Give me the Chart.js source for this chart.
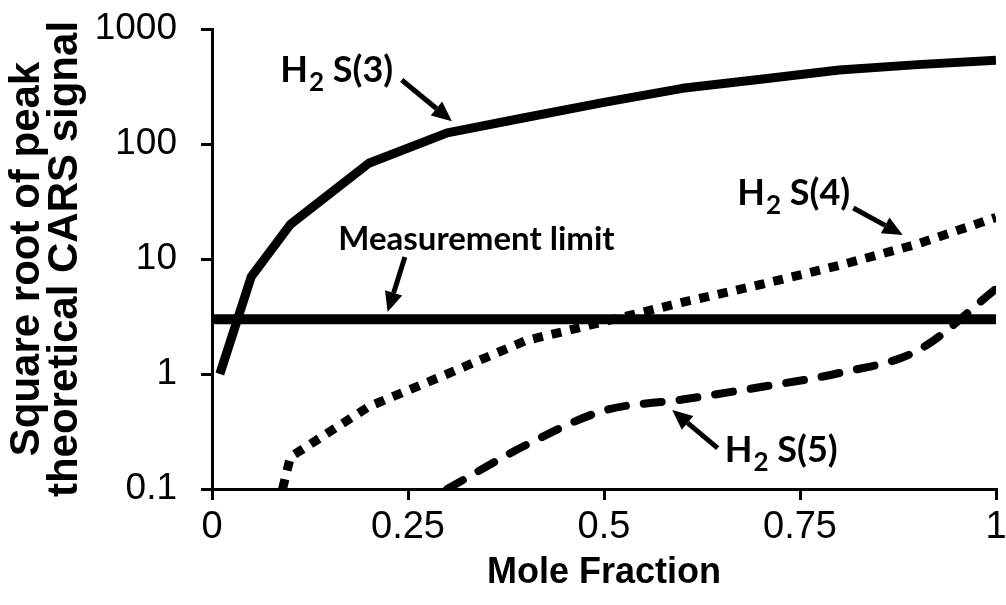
<!DOCTYPE html>
<html>
<head>
<meta charset="utf-8">
<script src="https://cdn.jsdelivr.net/npm/chart.js@4/dist/chart.umd.min.js"></script>
<style>
  html, body { margin: 0; padding: 0; background: #fff; }
</style>
</head>
<body>
<canvas id="carsChart" width="1006" height="605"></canvas>
<script>
// mole fraction / signal values for each line
const fracS3 = [0.01, 0.05, 0.1, 0.2, 0.3, 0.4, 0.5, 0.6, 0.7, 0.8, 0.9, 1.0];
const sigS3 = [1.0, 7.0, 20, 68, 125, 170, 230, 305, 365, 440, 490, 535];

const fracS4 = [0.09, 0.1, 0.2, 0.3, 0.4, 0.5, 0.6, 0.7, 0.8, 0.9, 1.0];
const sigS4 = [0.1, 0.19, 0.52, 1.0, 1.95, 2.85, 4.2, 6.0, 8.8, 13.5, 23];

const fracS5 = [0.3, 0.4, 0.5, 0.6, 0.7, 0.8, 0.9, 1.0];
const sigS5 = [0.1, 0.24, 0.48, 0.6, 0.77, 1.02, 1.6, 5.5];

const fracLimit = [0, 1];
const sigLimit = [3, 3];

const xTicks = [0, 0.25, 0.5, 0.75, 1];
const xTickLabels = ["0", "0.25", "0.5", "0.75", "1"];
const yTicks = [0.1, 1, 10, 100, 1000];
const yTickLabels = ["0.1", "1", "10", "100", "1000"];

function pts(xs, ys) {
  return xs.map((x, i) => ({ x: x, y: ys[i] }));
}

// callouts, placed in data units: text anchor + arrow tail/head
const callouts = [
  { sub: "3", at: [0.087, 347], from: [0.242, 360], to: [0.306, 158] },
  { sub: "4", at: [0.67, 29.5], from: [0.818, 27.8], to: [0.881, 16.2] },
  { sub: "5", at: [0.654, 0.172], from: [0.645, 0.227], to: [0.587, 0.486] },
];
const limitNote = { text: "Measurement limit", at: [0.161, 12], from: [0.246, 10.4], to: [0.224, 3.46] };

const NOTE_FONT = "Lato, 'Open Sans', sans-serif";

function drawArrow(ctx, x1, y1, x2, y2) {
  const ang = Math.atan2(y2 - y1, x2 - x1);
  const head = 20, half = 9;
  const bx = x2 - head * Math.cos(ang);
  const by = y2 - head * Math.sin(ang);
  ctx.beginPath();
  ctx.lineWidth = 5;
  ctx.moveTo(x1, y1);
  ctx.lineTo(bx, by);
  ctx.stroke();
  ctx.beginPath();
  ctx.moveTo(x2, y2);
  ctx.lineTo(bx + half * Math.sin(ang), by - half * Math.cos(ang));
  ctx.lineTo(bx - half * Math.sin(ang), by + half * Math.cos(ang));
  ctx.closePath();
  ctx.fill();
}

const calloutPlugin = {
  id: "callouts",
  afterDatasetsDraw(chart) {
    const ctx = chart.ctx;
    const xs = chart.scales.x, ys = chart.scales.y;
    const px = (p) => [xs.getPixelForValue(p[0]), ys.getPixelForValue(p[1])];
    ctx.save();
    ctx.fillStyle = "#000";
    ctx.strokeStyle = "#000";
    ctx.textBaseline = "alphabetic";
    ctx.textAlign = "left";

    callouts.forEach((c) => {
      let [x, y] = px(c.at);
      ctx.font = "bold 36px " + NOTE_FONT;
      ctx.fillText("H", x, y);
      x += ctx.measureText("H").width + 1;
      ctx.font = "bold 26px " + NOTE_FONT;
      ctx.fillText("2", x, y + 9);
      x += ctx.measureText("2").width;
      ctx.font = "bold 36px " + NOTE_FONT;
      ctx.fillText(" S(" + c.sub + ")", x, y);
      const a = px(c.from), b = px(c.to);
      drawArrow(ctx, a[0], a[1], b[0], b[1]);
    });

    const [lx, ly] = px(limitNote.at);
    ctx.font = "bold 33px " + NOTE_FONT;
    ctx.fillText(limitNote.text, lx, ly);
    const a = px(limitNote.from), b = px(limitNote.to);
    drawArrow(ctx, a[0], a[1], b[0], b[1]);
    ctx.restore();
  },
};

const axisFont = "'Liberation Sans', Arial, sans-serif";

new Chart(document.getElementById("carsChart"), {
  type: "line",
  data: {
    datasets: [
      {
        label: "H2 S(3)",
        data: pts(fracS3, sigS3),
        borderColor: "#000",
        borderWidth: 9,
        tension: 0,
        borderJoinStyle: "round",
      },
      {
        label: "Measurement limit",
        data: pts(fracLimit, sigLimit),
        borderColor: "#000",
        borderWidth: 10,
      },
      {
        label: "H2 S(4)",
        data: pts(fracS4, sigS4),
        borderColor: "#000",
        borderWidth: 9,
        borderDash: [10, 9],
        tension: 0,
      },
      {
        label: "H2 S(5)",
        data: pts(fracS5, sigS5),
        borderColor: "#000",
        borderWidth: 8,
        borderDash: [18, 18],
        borderCapStyle: "round",
        cubicInterpolationMode: "monotone",
      },
    ],
  },
  options: {
    responsive: false,
    animation: false,
    devicePixelRatio: 1,
    elements: { point: { radius: 0 } },
    layout: { padding: { top: 29, right: 10, left: 0, bottom: 0 } },
    plugins: {
      legend: { display: false },
      tooltip: { enabled: false },
    },
    scales: {
      x: {
        type: "linear",
        min: 0,
        max: 1,
        afterFit: (s) => {
          s.height = 116;
          s.paddingLeft = 0;
          s.paddingRight = 0;
        },
        afterBuildTicks: (s) => { s.ticks = xTicks.map((v) => ({ value: v })); },
        ticks: {
          color: "#000",
          font: { family: axisFont, size: 38 },
          padding: 5,
          maxRotation: 0,
          callback: (v) => xTickLabels[xTicks.indexOf(v)],
        },
        grid: {
          drawOnChartArea: false,
          color: "#000",
          lineWidth: 3,
          tickLength: 11,
        },
        border: { color: "#000", width: 3 },
        title: {
          display: true,
          text: "Mole Fraction",
          color: "#000",
          font: { family: axisFont, size: 36, weight: "bold" },
          padding: { top: 0, bottom: 10 },
        },
      },
      y: {
        type: "logarithmic",
        min: 0.1,
        max: 1000,
        afterFit: (s) => {
          s.width = 212;
          s.paddingTop = 0;
          s.paddingBottom = 0;
        },
        afterBuildTicks: (s) => { s.ticks = yTicks.map((v) => ({ value: v })); },
        ticks: {
          color: "#000",
          font: { family: axisFont, size: 37 },
          padding: 24,
          callback: (v) => yTickLabels[yTicks.indexOf(v)],
        },
        grid: {
          drawOnChartArea: false,
          color: "#000",
          lineWidth: 3,
          tickLength: 11,
        },
        border: { color: "#000", width: 3 },
        title: {
          display: true,
          text: ["Square root of peak", "theoretical CARS signal"],
          color: "#000",
          font: { family: axisFont, size: 42, weight: "bold", lineHeight: 0.9 },
          padding: { top: 9, bottom: 0 },
        },
      },
    },
  },
  plugins: [calloutPlugin],
});
</script>
</body>
</html>
